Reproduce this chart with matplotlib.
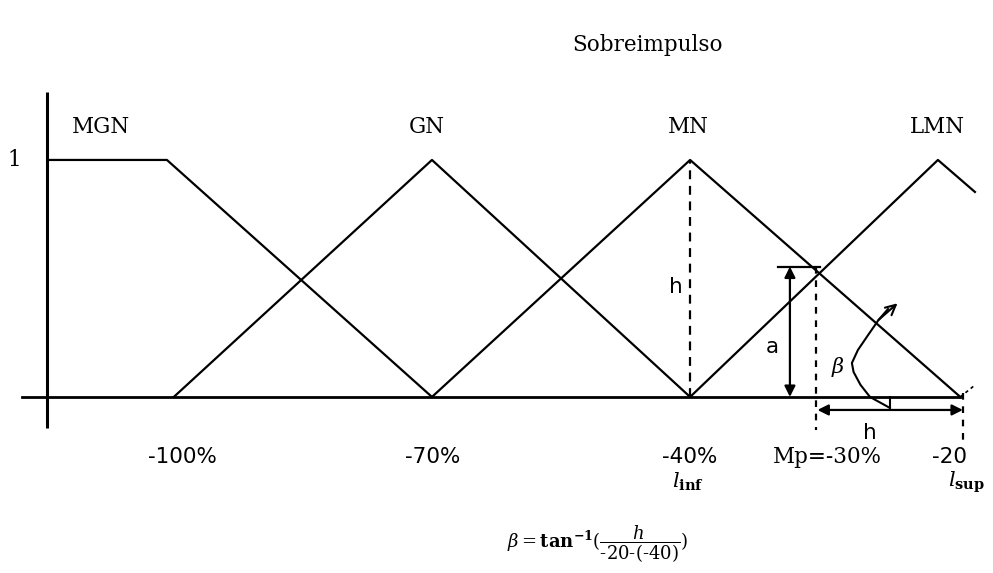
import numpy as np
import matplotlib
matplotlib.use("Agg")
import matplotlib.pyplot as plt

plt.rcParams["mathtext.fontset"] = "dejavuserif"

# membership functions of the overshoot ("Sobreimpulso") in %, schematic
mgn_x, mgn_y = [-114.7, -100.8, -70], [1, 1, 0]
gn_x, gn_y = [-100, -70, -40], [0, 1, 0]
mn_x, mn_y = [-70, -40, -8.6], [0, 1, 0]
lmn_x, lmn_y = [-40, -11.2, -6.9], [0, 1, 0.865]
set_names = ["MGN", "GN", "MN", "LMN"]
set_name_x = [-108.5, -70.6, -40.2, -11.3]

tick_x = [-99.0, -69.9, -40.0, -24.1, -9.8]
tick_labels = ["-100%", "-70%", "-40%", "Mp=-30%", "-20"]

mp_x = -25.4     # Mp = -30 %
a_val = 0.55     # membership at Mp
l_sup = -8.3     # "-20" end of MN

# beta curved arrow (schematic)
beta_x = [-19.1, -20.2, -21.0, -21.2, -20.5, -19.3, -18.1, -17.0]
beta_y = [0.0, 0.051, 0.105, 0.143, 0.198, 0.262, 0.325, 0.371]

serif = "DejaVu Serif"
sans = "DejaVu Sans"
K = "black"
FS = 15.5

fig = plt.figure(figsize=(9.93, 5.73), dpi=100)
ax = fig.add_axes([0, 0, 1, 1])
ax.set_xlim(-120.2, -4.8)
ax.set_ylim(-0.743, 1.675)
ax.axis("off")

# axes
ax.plot([-114.7, -114.7], [-0.131, 1.287], color=K, lw=2.2, solid_capstyle="butt")
ax.plot([-117.7, -8.6], [0, 0], color=K, lw=2.0)
ax.plot([-8.6, -6.9], [0, 0.05], color=K, lw=1.2, ls=(0, (2, 2)))

# membership functions
for xs, ys in [(mgn_x, mgn_y), (gn_x, gn_y), (mn_x, mn_y), (lmn_x, lmn_y)]:
    ax.plot(xs, ys, color=K, lw=1.6)
for name, x in zip(set_names, set_name_x):
    ax.text(x, 1.139, name, family=serif, fontsize=FS, ha="center", va="center")
ax.text(-118.5, 1.0, "1", family=serif, fontsize=FS, ha="center", va="center")
ax.text(-44.9, 1.485, "Sobreimpulso", family=serif, fontsize=FS, ha="center", va="center")

# h: dashed line at the MN peak
ax.plot([-40, -40], [0, 1], color=K, lw=1.6, ls=(0, (4, 3)))
ax.text(-41.6, 0.464, "h", family=sans, fontsize=FS, ha="center", va="center")

# a: membership at Mp
ax.plot([-29.8, -24.9], [a_val, a_val], color=K, lw=1.6)
ax.annotate("", xy=(-28.4, a_val), xytext=(-28.4, 0),
            arrowprops=dict(arrowstyle="<|-|>", color=K, lw=1.6, mutation_scale=16,
                            shrinkA=0, shrinkB=0))
ax.text(-30.5, 0.211, "a", family=sans, fontsize=FS, ha="center", va="center")
ax.plot([mp_x, mp_x], [a_val, -0.139], color=K, lw=1.6, ls=(0, (3, 3)))

# h: horizontal arrow Mp -> -20
ax.annotate("", xy=(l_sup, -0.055), xytext=(mp_x + 0.2, -0.055),
            arrowprops=dict(arrowstyle="<|-|>", color=K, lw=1.6, mutation_scale=16,
                            shrinkA=0, shrinkB=0))
ax.plot([l_sup, l_sup], [0.017, -0.2], color=K, lw=1.6, ls=(0, (3, 3)))
ax.text(-19.1, -0.152, "h", family=sans, fontsize=FS, ha="center", va="center")

# beta angle
ax.plot(beta_x, beta_y, color=K, lw=1.5)
ax.annotate("", xy=(-15.9, 0.395), xytext=(beta_x[-2], beta_y[-2]),
            arrowprops=dict(arrowstyle="->", color=K, lw=1.5, mutation_scale=18,
                            shrinkA=0, shrinkB=0))
ax.plot([-19.1, -16.8], [0, -0.046], color=K, lw=1.5)
ax.plot([-16.8, -16.8], [0, -0.046], color=K, lw=1.5)
ax.text(-22.8, 0.127, r"$\beta$", fontsize=15, ha="center", va="center")

# x labels
for x, lab in zip(tick_x, tick_labels):
    ax.text(x, -0.253, lab, family=serif if lab.startswith("Mp") else sans,
            fontsize=FS, ha="center", va="center")
ax.text(-40.3, -0.36, r"$l_{\mathbf{inf}}$", fontsize=15, ha="center", va="center")
ax.text(-7.9, -0.36, r"$l_{\mathbf{sup}}$", fontsize=15, ha="center", va="center")

# formula
ax.text(-50.8, -0.62,
        r"$\beta = \mathbf{tan}^{\mathbf{-1}}(\dfrac{h}{\text{-20-(-40)}})$",
        fontsize=13, ha="center", va="center")

fig.savefig("out.png", dpi=100)
